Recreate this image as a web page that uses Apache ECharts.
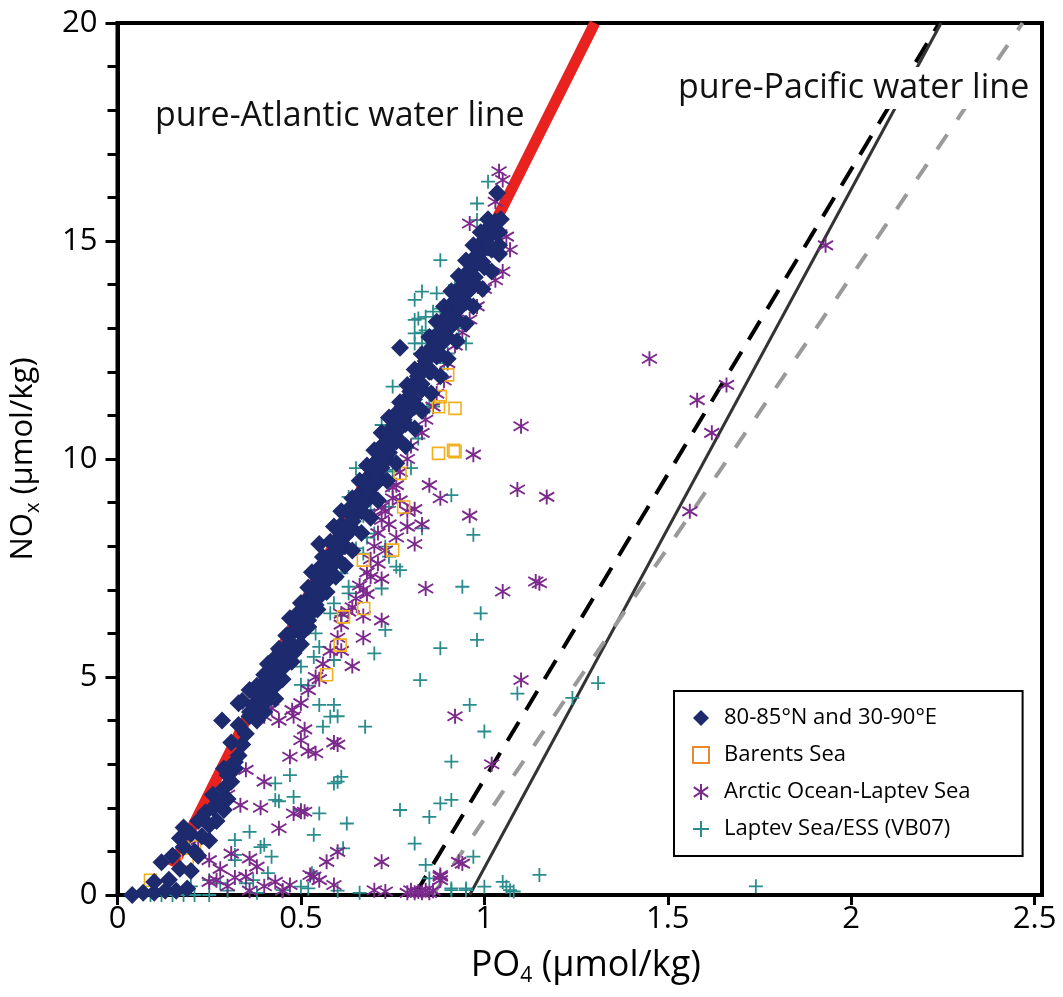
<!DOCTYPE html>
<html>
<head>
<meta charset="utf-8">
<script src="https://cdn.jsdelivr.net/npm/echarts@6/dist/echarts.min.js"></script>
<style>
html,body{margin:0;padding:0;background:#fff;}
#chart{width:1063px;height:997px;}
</style>
</head>
<body>
<div id="chart"></div>
<script>
// ---- Data (PO4, NOx) ----
const seriesNames = ['80-85°N and 30-90°E', 'Barents Sea', 'Arctic Ocean-Laptev Sea', 'Laptev Sea/ESS (VB07)'];

const navyPts = [[0.04,0],[0.07,0.05],[0.1,0.05],[0.13,0.1],[0.16,0.1],[0.19,0.15],[0.1,0.3],[0.14,0.35],[0.17,0.6],[0.2,0.55],[0.12,0.75],[0.15,0.9],[0.18,1.1],[0.21,1.0],[0.17,1.3],[0.2,1.4],[0.23,1.35],[0.18,1.55],[0.22,1.7],[0.25,1.6],[0.24,1.9],[0.26,2.0],[0.29,1.95],[0.26,2.3],[0.29,2.45],[0.3,2.2],[0.3,2.75],[0.32,2.9],[0.29,2.9],[0.33,3.2],[0.31,3.5],[0.34,3.45],[0.35,3.7],[0.33,3.9],[0.36,4.1],[0.285,4.0],[0.33,4.4],[0.34,4.45],[0.37,4.35],[0.39,4.5],[0.36,4.7],[0.38,4.8],[0.41,4.75],[0.4,5.05],[0.42,5.0],[0.44,4.9],[0.41,5.3],[0.43,5.45],[0.45,5.3],[0.44,5.65],[0.46,5.7],[0.48,5.55],[0.46,5.95],[0.48,6.05],[0.5,6.0],[0.47,6.35],[0.49,6.45],[0.52,6.3],[0.5,6.7],[0.52,6.8],[0.54,6.65],[0.52,7.05],[0.54,7.1],[0.56,7.0],[0.53,7.4],[0.55,7.5],[0.57,7.35],[0.56,7.75],[0.58,7.8],[0.6,7.7],[0.55,8.05],[0.58,8.1],[0.6,8.15],[0.59,8.45],[0.61,8.5],[0.63,8.4],[0.61,8.8],[0.63,8.85],[0.65,8.75],[0.64,9.1],[0.66,9.2],[0.68,9.05],[0.66,9.5],[0.68,9.55],[0.7,9.4],[0.68,9.85],[0.7,9.9],[0.72,9.8],[0.7,10.2],[0.72,10.3],[0.74,10.15],[0.72,10.6],[0.74,10.65],[0.76,10.5],[0.74,10.95],[0.76,11.05],[0.78,10.9],[0.77,11.3],[0.79,11.4],[0.81,11.25],[0.79,11.7],[0.81,11.75],[0.83,11.6],[0.81,12.05],[0.83,12.1],[0.85,12.0],[0.77,12.55],[0.83,12.4],[0.85,12.5],[0.87,12.35],[0.85,12.8],[0.87,12.85],[0.89,12.7],[0.87,13.15],[0.89,13.2],[0.91,13.05],[0.89,13.5],[0.91,13.55],[0.93,13.45],[0.91,13.85],[0.93,13.9],[0.95,13.8],[0.93,14.2],[0.95,14.25],[0.97,14.15],[0.95,14.55],[0.97,14.6],[0.99,14.5],[0.97,14.9],[0.99,14.95],[1.01,14.85],[0.99,15.2],[1.01,15.3],[1.03,15.2],[1.01,15.5],[1.03,15.45],[1.035,16.1],[1.04,14.9],
[0.38,4.0],[0.4,4.2],[0.4,4.4],[0.43,4.5],[0.43,4.8],[0.45,4.95],[0.45,5.2],[0.475,5.35],[0.475,5.6],[0.5,5.75],[0.5,6.0],[0.52,6.15],[0.52,6.4],[0.545,6.55],[0.545,6.8],[0.57,6.95],[0.57,7.2],[0.595,7.3],[0.59,7.6],[0.62,7.55],[0.62,8.0],[0.64,7.9],[0.64,8.4],[0.665,8.3],[0.665,8.8],[0.69,8.65],[0.69,9.2],[0.71,9.05],[0.71,9.6],[0.735,9.5],[0.735,10.0],[0.76,9.9],[0.76,10.4],[0.785,10.3],[0.785,10.8],[0.81,10.7],[0.81,11.2],[0.83,11.1],[0.83,11.6],[0.855,11.5],[0.855,12.0],[0.88,11.9],[0.88,12.4],[0.9,12.3],[0.9,12.8],[0.925,12.7],[0.925,13.2],[0.95,13.1],[0.95,13.6],[0.97,13.5],[0.975,14.0],[0.995,13.9],[1.0,14.4],[1.02,14.3],[1.02,14.8],[1.04,14.7],[1.04,15.2],[1.045,15.5],
[0.22,0.9],[0.25,1.25],[0.27,1.7],[0.28,2.15],[0.31,2.6],[0.32,3.05],
[0.361,4.2],[0.382,4.55],[0.403,4.9],[0.424,5.25],[0.444,5.6],[0.465,5.95],[0.486,6.3],[0.507,6.65],[0.528,7.0],[0.549,7.35],[0.569,7.7],[0.59,8.05],[0.611,8.4],[0.632,8.75],[0.653,9.1],[0.674,9.45],[0.694,9.8],[0.715,10.15],[0.736,10.5],[0.757,10.85],[0.778,11.2],[0.798,11.55],[0.819,11.9],[0.84,12.25],[0.861,12.6],[0.882,12.95],[0.903,13.3],[0.923,13.65],[0.944,14.0],[0.965,14.35],[0.986,14.7],[1.007,15.05],[1.027,15.4],
[0.39,4.37],[0.41,4.72],[0.433,5.07],[0.454,5.42],[0.475,5.77],[0.495,6.12],[0.516,6.47],[0.537,6.82],[0.558,7.17],[0.579,7.52],[0.6,7.87],[0.62,8.22],[0.641,8.57],[0.662,8.92],[0.683,9.27],[0.704,9.62],[0.725,9.97],[0.745,10.32],[0.766,10.67],[0.787,11.02],[0.808,11.37],[0.829,11.72],[0.85,12.07],[0.87,12.42],[0.891,12.77],[0.912,13.12],[0.933,13.47],[0.953,13.82],[0.974,14.17],[0.995,14.52],[1.016,14.87],[1.037,15.22]];

const orangePts = [[0.9,11.93],[0.88,11.43],[0.92,11.16],[0.875,11.2],[0.875,10.13],[0.916,10.2],[0.92,10.17],[0.78,8.9],[0.75,7.91],[0.67,7.68],[0.616,6.38],[0.671,6.57],[0.607,5.73],[0.57,5.05],[0.77,9.67],[0.21,1.1],[0.09,0.34],[0.19,0.8]];

const purplePts = [[1.04,16.6],[1.05,16.4],[1.03,15.9],[0.96,15.4],[1.06,15.1],[1.07,14.8],[1.05,14.3],[1.03,14.1],[1.0,13.9],[0.98,13.5],[0.96,13.2],[0.94,12.9],[0.92,12.6],[0.9,12.2],[0.89,11.8],[0.87,11.5],[0.86,11.2],[0.84,10.9],[0.83,10.6],[0.8,10.3],[0.79,10.0],[0.77,9.7],[0.76,9.4],[0.75,9.1],[0.73,8.8],[0.72,8.6],[0.71,8.3],[0.7,8.0],[0.69,7.7],[0.68,7.4],[0.66,7.1],[0.65,6.8],[0.63,6.5],[0.61,6.2],[0.6,5.9],[0.58,5.6],[0.56,5.3],[0.54,5.0],[0.52,4.7],[0.5,4.4],[0.48,4.1],
[0.75,9.35],[0.77,9.05],[0.79,8.8],[0.81,8.85],[0.83,8.5],[0.79,8.45],[0.81,8.05],[0.76,8.2],[0.74,8.5],[0.72,8.9],[0.7,8.7],[0.73,7.9],[0.71,7.6],[0.69,7.3],[0.67,7.0],[0.68,6.9],[0.72,7.25],[0.72,6.3],[0.67,6.4],[0.67,5.9],[0.64,6.6],[0.61,6.45],[0.64,5.25],[0.61,5.6],[0.55,4.95],[0.85,9.4],[0.88,9.1],[0.96,8.7],[0.84,7.03],[0.97,10.1],[1.1,10.75],[1.09,9.3],[1.17,9.13],[1.05,6.96],[1.14,7.19],[1.15,7.15],[1.1,4.93],[1.45,12.3],[1.66,11.7],[1.58,11.35],[1.62,10.6],[1.56,8.8],[1.93,14.9],[0.92,4.1],[1.02,3.0],[0.88,0.42],[0.93,0.76],[0.72,0.76],[0.59,3.5],[0.6,3.45],[0.47,3.17],[0.5,3.55],[0.51,3.8],[0.54,3.25],[0.52,3.3],[0.44,1.53],[0.4,2.6],[0.39,2.0],[0.335,2.06],[0.3,2.3],[0.35,2.87],[0.42,4.28],[0.4,4.1],[0.44,4.0],[0.476,4.24],[0.48,1.87],[0.5,1.91],[0.51,1.91],[0.36,0.84],[0.38,0.65],[0.31,0.95],[0.22,1.26],[0.25,0.8],[0.28,0.6],[0.32,0.4],[0.3,0.2],[0.57,0.76],[0.6,0.99],[0.525,0.46],[0.535,0.42],[0.55,0.34],[0.43,0.3],[0.47,0.23],[0.59,0.23],[0.7,0.11],[0.73,0.08],[0.79,0.05],[0.81,0.05],[0.83,0.05],[0.85,0.05],[0.86,0.1],[0.35,0.42],[0.27,0.34],[0.94,0.72],[0.88,0.46],[0.88,0.34],[0.8,0.11],[0.82,0.08],[0.84,0.11],[0.4,0.2],[0.45,0.1],[0.36,0.1],[0.25,0.3]];

const tealPts = [[1.01,16.36],[0.98,15.86],[0.98,15.48],[0.88,14.56],[0.95,14.56],[0.83,13.84],[0.81,13.65],[0.87,13.8],[0.92,13.99],[0.81,13.19],[0.82,13.22],[0.84,13.26],[0.86,13.38],[0.88,13.45],[0.81,12.88],[0.83,12.9],[0.84,12.95],[0.81,12.65],[0.83,12.65],[0.825,12.42],[0.84,12.45],[0.95,12.65],[0.93,13.0],[0.9,12.42],[0.89,12.2],[0.88,11.96],[0.86,11.5],[0.86,11.2],[0.75,11.66],[0.85,11.2],[0.86,11.25],[0.72,10.78],[0.82,10.47],[0.78,10.32],[0.79,10.25],[0.65,9.79],[0.8,9.79],[0.73,9.75],[0.75,9.71],[0.74,9.4],[0.63,9.13],[0.68,9.06],[0.69,8.83],[0.67,8.7],[0.91,9.17],[0.74,8.9],[0.97,8.26],[0.83,8.41],[0.7,8.29],[0.68,8.2],[0.65,7.95],[0.67,7.83],[0.73,7.99],[0.74,7.76],[0.76,7.53],[0.77,7.45],[0.61,7.38],[0.63,7.07],[0.63,6.92],[0.72,7.03],[0.94,7.07],[0.99,6.46],[0.59,6.69],[0.58,6.46],[0.61,6.4],[0.73,6.08],[0.98,5.85],[0.88,5.66],[0.7,5.54],[0.54,6.0],[0.55,5.69],[0.535,5.46],[0.59,5.39],[0.5,5.24],[0.5,4.82],[0.52,4.8],[0.825,4.93],[1.09,4.62],[1.31,4.86],[1.24,4.52],[0.55,4.36],[0.59,4.36],[0.58,4.09],[0.6,4.1],[0.56,3.86],[0.675,3.86],[0.96,4.36],[1.0,3.75],[0.91,3.06],[0.91,2.18],[0.77,1.95],[0.85,1.79],[0.81,1.18],[0.84,0.69],[0.97,0.88],[0.61,2.71],[0.59,2.56],[0.6,2.6],[0.47,2.75],[0.43,2.56],[0.43,2.18],[0.44,2.15],[0.48,2.25],[0.5,1.95],[0.55,1.87],[0.625,1.64],[0.36,1.45],[0.32,1.26],[0.4,1.15],[0.39,1.1],[0.42,0.88],[0.535,1.38],[0.615,1.07],[0.32,0.92],[0.32,0.8],[0.41,0.5],[0.25,0.34],[0.28,0.27],[0.35,0.27],[0.37,0.34],[0.5,0.19],[0.52,0.15],[0.45,0.11],[0.91,0.11],[0.95,0.11],[0.09,0],[0.12,0],[0.15,0],[0.18,0],[0.21,0],[0.25,0],[1.0,0.19],[0.85,0.38],[0.91,0.15],[0.95,0.15],[1.05,0.3],[1.06,0.19],[1.07,0.11],[1.08,0.08],[1.15,0.46],[1.74,0.2],[0.88,2.1],[0.2,0.2],[0.3,0.1],[0.38,0.05],[0.6,0.1],[0.66,0.05],[0.53,0.5]];

// reference lines (endpoints)
const atlanticLine = [[0.15,0.65],[1.301,20]];
const pacificDashed = [[0.81,0],[2.24,20]];
const pacificSolid = [[0.96,0],[2.245,20]];
const pacificGrayDashed = [[0.86,0],[2.467,20]];

const xTicks = [0, 0.5, 1, 1.5, 2, 2.5];

const FONT = '"Open Sans", "DejaVu Sans", sans-serif';
const PLUS = 'path://M0,-1L0,1M-1,0L1,0';
const STAR = 'path://M0,-1L0,1M-0.9,-0.6L0.9,0.6M-0.9,0.6L0.9,-0.6';

const chart = echarts.init(document.getElementById('chart'), null, {renderer: 'canvas'});

function lineSeries(data, color, width, type) {
  return {
    type: 'line', data: data, showSymbol: false, symbol: 'none', silent: true,
    lineStyle: {color: color, width: width, type: type, cap: 'butt'}, z: 1, animation: false
  };
}

chart.setOption({
  animation: false,
  backgroundColor: '#fff',
  grid: {left: 117, right: 21, top: 23, bottom: 102, show: true, borderColor: '#000', borderWidth: 4, backgroundColor: 'transparent'},
  xAxis: {
    type: 'value', min: 0, max: 2.52, interval: 0.5,
    splitLine: {show: false},
    axisLine: {lineStyle: {color: '#000', width: 4}},
    axisTick: {show: true, inside: false, length: 10, lineStyle: {color: '#000', width: 3}, customValues: xTicks},
    axisLabel: {color: '#000', fontSize: 31, fontFamily: FONT, margin: 9, customValues: xTicks,
      formatter: function (v) { return xTicks.indexOf(v) >= 0 ? String(v) : ''; }},
    name: '{a|PO}{s|4}{a| (μmol/kg)}', nameLocation: 'middle', nameGap: 50,
    nameTextStyle: {padding: [0, 0, 0, 12], rich: {
      a: {fontSize: 36, fontFamily: FONT, color: '#000', lineHeight: 42},
      s: {fontSize: 21, fontFamily: FONT, color: '#000', lineHeight: 14, verticalAlign: 'bottom'}
    }}
  },
  yAxis: {
    type: 'value', min: 0, max: 20, interval: 5,
    splitLine: {show: false},
    axisLine: {lineStyle: {color: '#000', width: 4}},
    axisTick: {show: true, inside: false, length: 12, lineStyle: {color: '#000', width: 3}},
    minorTick: {show: true, splitNumber: 5, length: 10, lineStyle: {color: '#000', width: 3}},
    axisLabel: {color: '#000', fontSize: 31, fontFamily: FONT, margin: 20},
    name: '{a|NO}{s|x}{a| (μmol/kg)}', nameLocation: 'middle', nameGap: 74,
    nameTextStyle: {rich: {
      a: {fontSize: 31, fontFamily: FONT, color: '#000', lineHeight: 40},
      s: {fontSize: 20, fontFamily: FONT, color: '#000', lineHeight: 14, verticalAlign: 'bottom'}
    }}
  },
  legend: {
    orient: 'vertical', left: 674, top: 691,
    data: [
      {name: seriesNames[0]},
      {name: seriesNames[1], itemStyle: {borderColor: '#e98a2e'}},
      {name: seriesNames[2]},
      {name: seriesNames[3]}
    ],
    borderColor: '#000', borderWidth: 2,
    padding: [16, 52, 16, 18], itemGap: 15,
    itemWidth: 16, itemHeight: 16,
    textStyle: {fontSize: 22, fontFamily: FONT, color: '#000', padding: [0, 0, 0, 10]},
    selectedMode: false
  },
  graphic: [
    {type: 'text', left: 155, top: 99, z: 100,
     style: {text: 'pure-Atlantic water line', fontSize: 34, fontFamily: FONT, fill: '#111'}},
    {type: 'text', left: 674, top: 67, z: 100,
     style: {text: 'pure-Pacific water line', fontSize: 34, fontFamily: FONT, fill: '#111', backgroundColor: '#fff', padding: [4, 4, 4, 4]}}
  ],
  series: [
    lineSeries(atlanticLine, '#e8231f', 11, 'solid'),
    lineSeries(pacificDashed, '#000', 4, [22, 14]),
    lineSeries(pacificSolid, '#333', 3, 'solid'),
    lineSeries(pacificGrayDashed, '#9a9a9a', 4, [18, 18]),
    {name: seriesNames[3], type: 'scatter', data: tealPts, symbol: PLUS, symbolSize: 14, z: 2,
     itemStyle: {color: 'transparent', borderColor: '#2a8c8c', borderWidth: 1.8, opacity: 1}},
    {name: seriesNames[2], type: 'scatter', data: purplePts, symbol: STAR, symbolSize: 15, z: 3,
     itemStyle: {color: 'transparent', borderColor: '#7b2a8c', borderWidth: 1.9, opacity: 1}},
    {name: seriesNames[1], type: 'scatter', data: orangePts, symbol: 'rect', symbolSize: 12, z: 4,
     itemStyle: {color: 'transparent', borderColor: '#f2b01e', borderWidth: 1.6, opacity: 1}},
    {name: seriesNames[0], type: 'scatter', data: navyPts, symbol: 'diamond', symbolSize: 18, z: 5,
     itemStyle: {color: '#1e2a6e', opacity: 1}}
  ]
});
</script>
</body>
</html>
